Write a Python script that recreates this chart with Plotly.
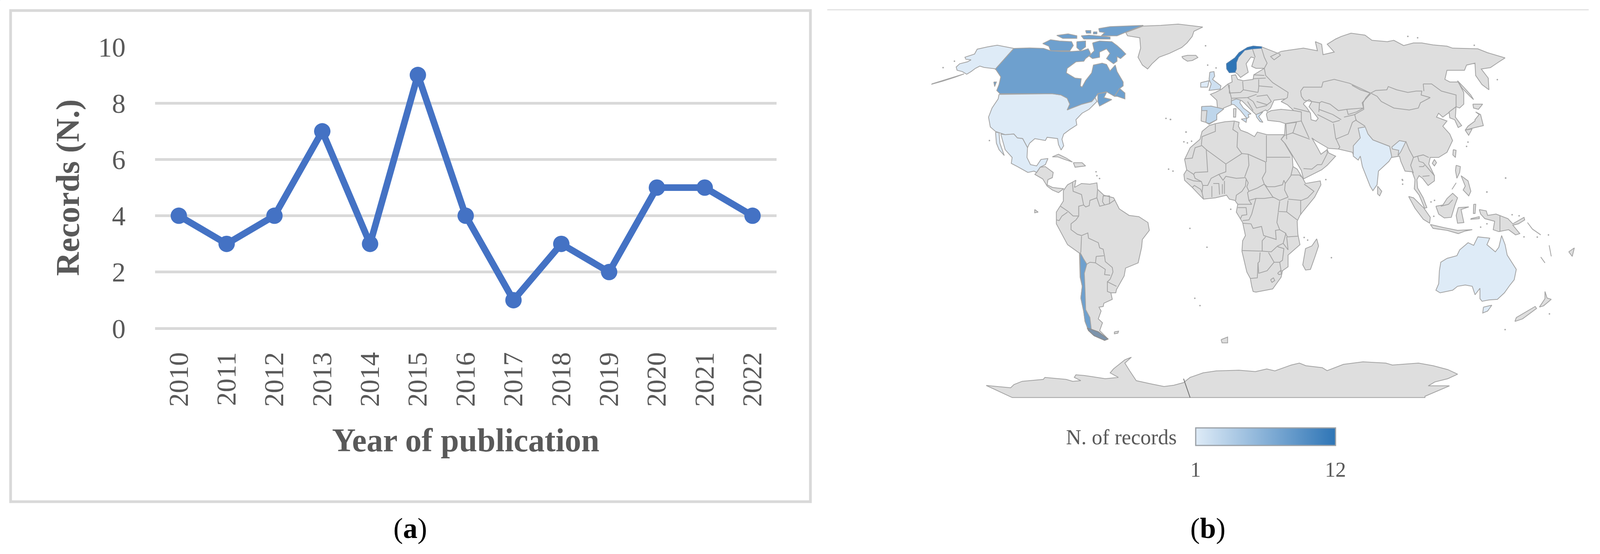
import plotly.graph_objects as go
from plotly.colors import sample_colorscale

W, H = 4379, 1419     # the reference's size: map units and layout fractions are measured in it
PAGE_W = 4096         # the browser window stops at this width, so the figure is fitted to it

# ---------- panel (a) data ----------
YEARS = ["2010","2011","2012","2013","2014","2015","2016","2017","2018","2019","2020","2021","2022"]
RECORDS = [4, 3, 4, 7, 3, 9, 4, 1, 3, 2, 5, 5, 4]

# ---------- panel (b) data: records per country ----------
REC_USA = 1; REC_MEXICO = 1; REC_AUSTRALIA = 1; REC_INDIA = 1; REC_IRELAND = 1
REC_UK = 2; REC_ITALY = 2; REC_GREECE = 2
REC_SPAIN = 3
REC_CANADA = 8; REC_CHILE = 8
REC_NORWAY = 12
SCALE_MIN, SCALE_MAX = 1, 12
COLORSCALE = [[0, "#DEEBF7"], [1, "#2E75B6"]]

# map outlines; each list is read in one of these frames
FRAMES = {"NA": (2550, 50, 2.09, 3), "SA": (2650, 400, 2.613, 3), "EU": (3200, 60, 2.613, 3),
          "AF": (3200, 350, 2.613, 3), "AS": (3700, 60, 2.613, 3), "OC": (3750, 400, 2.613, 3),
          "AN": (2650, 850, 1.12, 3)}

ALASKA = [(470,222),(430,212),(375,197),(320,210),(260,228),(245,265),(190,290),(195,305),(225,310),(205,325),(160,340),(140,365),(145,390),(175,400),(200,420),(225,400),(250,375),(275,358),(300,368),(360,378),(375,395),(395,440),(365,380)]
ALEUTIANS = [(0,495),(60,470),(130,440),(185,418),(130,445),(60,475),(0,497)]
CANADA = [(470,222),(560,218),(640,222),(680,240),(740,245),(800,245),(860,240),(895,225),(905,250),(910,270),(880,300),(870,320),(825,325),(775,375),(770,410),(820,450),(855,455),(850,510),(860,520),(880,470),(915,410),(925,350),(975,335),(1000,345),(1020,395),(1050,350),(1060,400),(1095,480),(1095,510),(1075,530),(1045,590),(1000,555),(950,570),(935,600),(915,630),(860,650),(790,685),(775,695),(790,650),(775,605),(740,580),(690,570),(390,570),(372,545),(385,500),(395,440),(365,380)]
CANADA_MARITIMES = [(950,570),(1000,560),(985,600),(1030,615),(960,665),(950,630)]
CANADA_NEWFOUNDLAND = [(1045,590),(1075,530),(1105,565),(1105,610),(1060,590)]
CANADA_VANCOUVER = [(355,480),(370,480),(360,515)]
CANADA_BAFFIN = [(920,180),(960,165),(1030,170),(1060,200),(1085,230),(1110,265),(1080,300),(1060,285),(1060,320),(1040,340),(1000,300),(1020,260),(1000,225),(960,250),(960,290),(920,300),(900,280),(930,240)]
CANADA_VICTORIA = [(635,185),(680,155),(730,165),(800,170),(810,200),(790,240),(680,240),(670,205)]
CANADA_SOMERSET = [(830,170),(880,165),(880,210),(850,240),(830,215)]
CANADA_MELVILLE = [(715,122),(780,110),(830,125),(830,145),(750,145)]
CANADA_DEVON = [(855,125),(900,120),(1020,135),(1020,150),(870,150)]
CANADA_ISLE_A = [(880,85),(910,85),(910,105),(885,105)]
CANADA_ISLE_B = [(925,95),(945,95),(945,110),(925,110)]
CANADA_ELLESMERE = [(955,70),(1020,55),(1210,45),(1150,75),(1060,125),(970,125),(990,100),(960,95)]
GREENLAND = [(1210,50),(1310,45),(1410,35),(1550,58),(1500,90),(1490,130),(1460,180),(1430,215),(1360,260),(1300,290),(1260,340),(1235,380),(1205,350),(1180,290),(1195,220),(1190,140),(1120,125),(1110,100),(1170,70)]
USA = [(385,575),(690,570),(740,580),(775,605),(790,650),(775,695),(860,650),(915,630),(935,600),(945,630),(900,690),(860,720),(825,770),(830,810),(790,845),(755,880),(745,920),(755,970),(740,1003),(725,960),(720,915),(660,905),(650,930),(590,915),(560,950),(548,985),(520,915),(490,910),(470,880),(420,885),(365,860),(335,825),(325,750),(345,680),(380,610)]
MEXICO = [(395,880),(420,885),(470,880),(490,910),(520,915),(548,985),(545,1060),(565,1115),(600,1125),(625,1075),(665,1068),(650,1115),(620,1135),(600,1175),(585,1165),(550,1175),(490,1130),(455,1105),(460,1060),(420,1000)]
BAJA = [(365,865),(385,870),(390,950),(415,1045),(385,1000),(370,950)]
CENTRAL_AMERICA = [(600,1175),(620,1135),(650,1130),(695,1175),(690,1215),(665,1230),(660,1270),(690,1290),(720,1295),(755,1300),(725,1330),(690,1310),(660,1280),(635,1225),(590,1190)]
CUBA = [(690,1055),(725,1035),(770,1065),(805,1095),(760,1075),(720,1055)]
HISPANIOLA = [(810,1100),(860,1100),(880,1125),(820,1135)]
ICELAND = [(90,255),(130,245),(190,245),(205,262),(165,285),(130,290),(100,270)]

SOUTH_AMERICA = [(680,265),(710,220),(745,200),(770,185),(760,240),(810,210),(870,215),(920,205),(925,255),(970,300),(1040,320),(1060,365),(1080,405),(1150,455),(1220,465),(1285,510),(1295,570),(1245,640),(1240,700),(1215,820),(1125,860),(1115,920),(1060,1025),(1055,1050),(1020,1050),(1030,1100),(970,1130),(965,1155),(935,1160),(950,1190),(930,1250),(960,1280),(940,1340),(1000,1405),(975,1415),(900,1380),(860,1340),(835,1270),(825,1190),(805,1090),(815,1000),(800,930),(795,745),(710,680),(630,520),(630,430),(660,380),(680,345)]
CHILE = [(800,740),(825,790),(848,830),(830,900),(835,1020),(840,1180),(870,1240),(880,1330),(930,1350),(1000,1405),(975,1415),(900,1380),(860,1340),(835,1270),(825,1190),(805,1090),(815,1000),(803,930),(800,830)]
CHILE_TIP = [(850,1320),(880,1330),(930,1350),(1000,1405),(975,1415),(900,1380),(860,1340)]
SA_BORDERS = [
 [(745,200),(750,270),(810,295),(825,375),(790,385),(790,460)],
 [(660,385),(715,425),(750,460),(790,460),(770,490),(735,520),(735,565),(780,600),(810,610),(855,590),(860,630),(930,665),(940,705),(965,715),(975,770),(980,810),(1030,855),(1035,890),(1015,945),(995,965),(1060,1000)],
 [(630,490),(650,495),(670,460),(710,430)],
 [(810,615),(805,740)],
 [(915,770),(970,765)], [(915,770),(910,820),(980,870),(975,910),(1015,915)],
 [(848,830),(870,815),(910,820)],
 [(995,965),(995,1040),(1020,1050)],
 [(825,375),(840,390),(865,380),(870,340),(920,320),(925,255)],
 [(920,320),(940,385),(975,375),(960,350),(965,305),(1010,305),(1010,365),(975,375)],
 [(1010,365),(1050,335)],
]
FALKLAND = [(1045,1350),(1075,1345),(1070,1360),(1045,1365)]
GALAPAGOS = [(475,410),(500,430),(475,435)]

AFRICA = [(285,-85),(330,-100),(400,-115),(465,-120),(500,-110),(495,-80),(510,-50),(560,-30),(610,0),(630,-35),(700,-15),(770,-15),(825,-15),(800,20),(825,50),(880,150),(885,230),(915,250),(955,320),(975,360),(1080,340),(1085,370),(1040,465),(960,570),(935,605),(915,650),(920,750),(935,830),(850,910),(850,1000),(810,1030),(800,1080),(740,1170),(620,1195),(600,1190),(590,1150),(580,1090),(555,1040),(520,880),(525,800),(545,760),(525,660),(480,580),(490,520),(470,490),(430,480),(410,450),(330,470),(245,480),(200,430),(165,390),(110,335),(105,290),(125,255),(110,175),(150,85),(220,20),(235,-40)]
AF_BORDERS = [
 [(330,-95),(330,-40),(235,0),(230,65)],
 [(110,170),(165,165),(185,85),(230,70)],
 [(230,65),(265,100),(405,210)],
 [(265,100),(275,270),(185,275),(175,290),(125,255)],
 [(465,-115),(455,-55),(490,-30),(485,80),(520,130)],
 [(405,210),(520,130),(565,135),(690,195)],
 [(695,-10),(695,195)],
 [(695,158),(865,158)],
 [(565,135),(570,220),(540,310)],
 [(405,210),(405,270),(355,290),(385,335),(405,305),(480,320),(545,315)],
 [(690,195),(690,270),(665,320),(680,365),(630,395),(570,420),(555,385),(565,355),(545,315)],
 [(550,330),(545,380),(520,420),(480,450),(475,490)],
 [(490,520),(590,520),(570,490),(560,430),(570,420)],
 [(570,490),(620,475),(680,475),(745,465),(790,490)],
 [(680,365),(720,430),(745,470)],
 [(680,365),(700,385),(755,385),(810,370),(820,335),(830,360),(870,300),(885,230)],
 [(830,360),(825,410),(850,465),(790,490)],
 [(870,295),(930,295),(965,325)],
 [(965,365),(1035,420),(990,470),(945,490),(850,480)],
 [(940,490),(940,600)],
 [(790,495),(780,575),(840,578),(850,490)],
 [(840,578),(915,640)],
 [(780,580),(770,660),(790,715),(830,740),(845,770),(920,765)],
 [(620,475),(590,595),(570,640),(525,645)],
 [(525,665),(585,670),(600,705),(660,690),(675,760),(765,790),(760,720),(790,715)],
 [(490,545),(550,545),(555,600),(520,605),(510,630)],
 [(690,770),(665,800),(665,880),(520,875)],
 [(665,880),(730,885),(775,840),(815,820),(835,740)],
 [(650,890),(645,960),(635,970),(630,1085),(580,1090)],
 [(710,890),(750,965),(700,1030),(640,1050),(635,970)],
 [(775,845),(820,860),(810,950),(790,965),(750,965)],
 [(790,965),(800,1030),(810,1035)],
 [(815,820),(850,870),(840,770)],
 [(725,1100),(745,1085),(755,1105),(735,1120),(725,1100)],
 [(775,1050),(795,1030),(805,1055),(785,1060),(775,1050)],
 [(175,290),(185,320),(230,345),(240,375),(275,375),(300,320),(355,290)],
 [(240,375),(235,430),(245,480)],
 [(305,380),(305,465)], [(315,360),(355,360),(360,445)], [(380,365),(380,440)], [(395,340),(395,440)],
 [(125,320),(175,340),(230,345)],
 [(165,390),(180,375),(225,405),(235,430)],
]
MADAGASCAR = [(1055,785),(1068,840),(1040,930),(1010,1020),(975,1025),(955,985),(975,860),(1020,840)]
SRI_LANKA = [(1490,380),(1520,420),(1505,455),(1490,440)]

EURASIA_WEST = [(228,750),(230,700),(232,640),(300,635),(345,650),(340,590),(295,545),(330,530),(375,505),(420,465),(450,450),(445,400),(475,395),(490,430),(530,440),(600,430),(605,395),(680,345),(620,345),(590,330),(610,265),(585,258),(550,310),(565,375),(510,415),(490,390),(470,375),(430,378),(412,350),(410,310),(470,265),(500,225),(560,185),(600,175),(660,180),(720,205),(790,235),(795,245),(750,280),(725,255),(800,215),(860,205),(960,190),(1060,210),(1045,140),(1090,160),(1100,240),(1180,220),(1130,160),(1190,120),(1230,100),(1300,75),(1400,90),(1450,130),(1560,140)]
EURASIA_EAST = [(300,130),(370,170),(440,150),(500,150),(580,165),(680,175),(720,190),(900,195),(970,225),(1095,265),(1045,300),(990,340),(925,350),(975,420),(980,510),(930,470),(885,400),(880,305),(820,320),(805,360),(680,360),(665,430),(700,450),(760,450),(800,530),(800,620),(770,650),(745,640),(700,680),(650,720),(620,690),(605,720),(680,750),(650,790),(700,850),(720,900),(680,990),(620,1030),(560,1030),(550,1080),(590,1170),(590,1210),(545,1245),(505,1190),(480,1170),(465,1200),(470,1265),(510,1340),(536,1415),(520,1420),(481,1320),(446,1270),(451,1200),(431,1140),(380,1135),(350,1060),(340,1020),(285,1030),(10,1010)]
EURASIA_SOUTH = [(1310,990),(1210,965),(1140,960),(1045,900),(1020,880),(1060,955),(1085,1005),(1130,970),(1140,995),(1190,1020),(1130,1090),(1090,1125),(960,1195),(945,1130),(885,1020),(830,925),(800,890),(825,860),(830,770),(790,755),(705,745),(695,700),(700,685),(730,670),(800,660),(890,670),(845,625),(800,600),(830,580),(750,590),(725,650),(700,675),(690,665),(625,700),(650,755),(620,700),(600,680),(540,615),(520,595),(510,590),(445,595),(445,625),(390,650),(340,700),(340,740),(285,775),(262,760)]
CASPIAN = [(965,610),(1000,585),(1020,600),(1000,640),(1030,680),(1065,730),(1050,750),(1015,740),(1010,690),(985,650),(960,620)]
EU_BORDERS = [
 [(595,195),(615,260)],
 [(660,190),(680,260),(700,305),(680,345)],
 [(680,345),(690,400),(740,455),(850,530),(845,570),(830,580)],
 [(605,395),(680,400)], [(600,425),(690,420)],
 [(640,430),(640,490),(635,530)], [(640,480),(740,490)],
 [(525,445),(530,510),(635,530)],
 [(430,470),(430,535),(510,530),(530,510)],
 [(420,465),(445,575),(445,620)],
 [(445,575),(560,570),(625,545)],
 [(625,560),(700,550),(730,600),(700,625),(625,600)],
 [(600,600),(625,650),(700,630)],
 [(560,600),(600,670)], [(560,570),(600,600)],
 [(890,670),(945,680),(945,750),(830,770)],
 [(890,650),(1000,680)],
 [(840,770),(910,760),(885,840),(830,860)],
 [(880,840),(1005,890)],
 [(945,750),(1000,880)],
 [(835,770),(840,890)],
 [(960,1115),(1020,1120),(1060,1085),(1090,1085)],
 [(1090,1085),(1130,1000),(1130,960)],
 [(1175,770),(1190,880),(1220,950),(1210,965)],
 [(1060,700),(1170,760),(1220,745)],
 [(1190,890),(1280,850),(1310,760),(1340,740)],
 [(940,520),(960,490),(1090,490),(1100,450),(1180,430),(1290,460),(1440,535)],
 [(965,590),(1075,610),(1090,600),(1150,620),(1210,670),(1270,660),(1390,650),(1380,610),(1440,540)],
 [(940,520),(945,560),(965,590)],
 [(1075,610),(1070,680)],
 [(1070,660),(1170,700),(1230,740)],
 [(1270,660),(1280,700),(1340,680),(1390,650)],
 [(1250,720),(1330,700)],
]
AS_BORDERS = [
 [(130,535),(100,570),(80,610),(85,660),(20,700),(30,745),(95,790)],
 [(135,535),(170,515),(250,510),(260,485),(320,510),(400,530),(460,520),(500,520),(495,550),(560,570),(490,610),(475,650),(410,665),(300,650),(210,600),(180,560),(135,535)],
 [(510,465),(570,465),(640,520),(745,550),(745,610),(745,640)],
 [(510,465),(515,520)],
 [(0,475),(60,510),(130,535)],
 [(385,905),(410,970),(440,1030),(470,1020),(510,1010),(550,1030)],
 [(440,1030),(420,1090),(440,1150)],
 [(470,1020),(480,1060),(510,1070),(590,1170)],
 [(505,1175),(555,1170)],
 [(480,1100),(510,1100),(520,1090)],
 [(115,850),(150,895),(270,945)],
]
KOREA = [(745,640),(740,720),(785,785),(760,800),(735,740),(700,725),(695,680)]
SAKHALIN = [(755,440),(800,490),(850,550),(870,585),(845,560),(790,500)]
HOKKAIDO = [(865,620),(935,620),(905,660),(870,650)]
HONSHU = [(885,680),(920,700),(940,785),(880,800),(810,820),(830,790),(880,750),(880,740),(910,700)]
KYUSHU = [(810,820),(860,810),(835,860)]
TAIWAN = [(725,970),(745,975),(740,1030),(722,1010)]
HAINAN = [(590,1045),(605,1070),(590,1095),(575,1075)]
INDIA = [(95,795),(115,850),(150,895),(270,945),(285,1025),(265,1060),(190,1135),(180,1240),(150,1285),(130,1250),(75,1100),(60,1020),(45,1050),(10,1020),(10,990),(10,940),(60,880),(45,805)]
INDIA_ASSAM = [(285,950),(340,900),(385,910),(350,985),(330,1015),(335,975),(290,965)]

UK = [(290,375),(320,370),(325,405),(310,430),(370,480),(365,505),(285,515),(300,465),(285,430)]
IRELAND = [(225,455),(285,440),(275,490),(225,490)]
SPAIN = [(232,638),(300,635),(390,658),(340,700),(340,740),(285,770),(262,760),(270,670),(232,670)]
ITALY = [(445,595),(480,580),(510,590),(505,610),(530,650),(585,695),(565,700),(570,720),(555,730),(510,670),(465,625),(445,620)]
SICILY = [(515,735),(555,730),(550,760)]
GREECE = [(620,700),(670,680),(640,715),(670,760),(650,755),(625,720)]
NORWAY = [(410,310),(470,265),(500,225),(560,185),(600,175),(660,180),(660,190),(595,195),(540,205),(495,260),(480,300),(480,350),(470,375),(430,378),(412,350)]
SARDINIA = [(460,655),(478,655),(475,720),(460,720)]

LUZON = [(615,70),(645,80),(640,125),(620,170),(610,110)]
MINDANAO = [(650,150),(700,190),(720,270),(705,305),(665,260),(680,230)]
BORNEO = [(470,385),(520,375),(550,325),(590,285),(625,320),(605,380),(580,470),(530,475),(490,445)]
SUMATRA = [(275,310),(310,320),(385,400),(430,470),(425,515),(380,485),(320,400)]
JAVA = [(430,525),(530,550),(625,570),(730,565),(680,575),(630,595),(550,570),(450,555)]
SULAWESI = [(630,395),(705,390),(650,410),(670,510),(625,515),(615,455)]
NEW_GUINEA = [(780,410),(830,420),(840,455),(900,445),(985,480),(1020,520),(1100,470),(1105,490),(1060,520),(1020,530),(1070,595),(1040,605),(990,565),(920,580),(880,565),(890,500),(820,480),(790,445)]
MOLUCCAS = [(740,370),(755,370),(750,440),(738,440)]
TIMOR = [(720,480),(780,465),(780,480),(720,485)]
AUSTRALIA = [(940,610),(965,680),(980,760),(1010,810),(1045,870),(1030,950),(1000,990),(960,1050),(910,1100),(850,1105),(800,1115),(785,1095),(785,1015),(750,1065),(730,1000),(680,990),(625,1000),(590,1030),(500,1050),(470,1030),(490,980),(495,880),(505,815),(550,785),(620,765),(640,720),(700,665),(740,685),(770,620),(855,630),(835,680),(895,735),(920,700)]
TASMANIA = [(810,1160),(870,1145),(840,1190),(805,1205)]
NZ_SOUTH = [(1035,1270),(1045,1240),(1180,1155),(1190,1170),(1090,1250)]
NZ_NORTH = [(1210,1160),(1250,1095),(1250,1040),(1265,1090),(1295,1100),(1240,1150)]
FIJI = [(1420,735),(1460,705),(1445,770)]
OC_BORDERS = [[(928,455),(928,580)], [(505,385),(560,370),(590,335)], [(585,255),(615,205)],
              [(1125,510),(1160,560),(1220,605)], [(1220,775),(1250,820)], [(1280,685),(1295,770)]]

ANTARCTICA = [(55,412),(130,430),(140,405),(165,380),(230,365),(235,350),(300,365),(320,380),(345,375),(325,350),(330,330),(355,335),(420,360),(460,350),(435,315),(445,285),(460,255),(480,215),(500,195),(480,240),(495,300),(515,375),(560,400),(600,420),(630,410),(660,390),(680,350),(720,315),(760,300),(830,295),(880,305),(915,285),(940,300),(990,255),(1015,240),(1035,260),(1085,275),(1100,298),(1150,250),(1210,230),(1280,240),(1300,255),(1380,240),(1425,260),(1470,290),(1500,325),(1470,360),(1430,385),(1410,415),(1475,415),(1400,495),(1400,505),(135,505)]
ANTARCTICA_MERIDIAN = [(660,360),(680,505)]
SOUTH_GEORGIA = [(775,60),(795,40),(795,85),(778,85)]

DOTS_EU = [(260,172),(275,320),(335,342),(10,738),(120,835),(105,910),(130,918),(160,905)]
DOTS_NA = [(65,370),(130,320),(330,930),(1340,760),(1365,768),(1455,865),(1355,1150),(1380,1165),(940,1170),(945,1200),(960,1222)]
DOTS_AF = [(148,705),(270,850),(1120,330),(1160,930),(183,1242),(220,1298),(440,558),(965,775),(990,795)]
DOTS_OC = [(232,185),(232,215),(435,352),(460,340),(455,462),(790,545),(835,520),(1015,450),(1065,458),(1100,620),(1195,622),(1275,605),(968,168),(835,275),(1282,1212),(965,1333)]
DOTS_AS = [(875,168),(1040,432),(820,945),(830,912),(1100,1188),(965,1295),(360,1200),(400,100),(470,110)]

# ---------- helpers ----------
def frame(name, pts):
    ox, oy, sx, sy = FRAMES[name]
    return [(ox + x / sx, oy + y / sy) for x, y in pts]

def join(parts, close):
    xs, ys = [], []
    for p in parts:
        pts = p + p[:1] if close else p
        xs += [a for a, _ in pts] + [None]
        ys += [b for _, b in pts] + [None]
    return xs, ys

def rec_color(v):
    return sample_colorscale(COLORSCALE, (v - SCALE_MIN) / (SCALE_MAX - SCALE_MIN))[0]

LAND = "#DEDEDE"
EDGE = "#A3A3A3"
fig = go.Figure()

# panel (a)
fig.add_trace(go.Scatter(x=YEARS, y=RECORDS, mode="lines+markers", showlegend=False,
                         line=dict(color="#4472C4", width=17),
                         marker=dict(color="#4472C4", size=42), xaxis="x", yaxis="y"))

def poly(parts, fill, edge=EDGE, width=2):
    xs, ys = join(parts, True)
    fig.add_trace(go.Scatter(x=xs, y=ys, mode="lines", fill="toself", fillcolor=fill,
                             line=dict(color=edge, width=width), showlegend=False,
                             hoverinfo="skip", xaxis="x2", yaxis="y2"))

def lines(parts, color=EDGE, width=2):
    xs, ys = join(parts, False)
    fig.add_trace(go.Scatter(x=xs, y=ys, mode="lines", line=dict(color=color, width=width),
                             showlegend=False, hoverinfo="skip", xaxis="x2", yaxis="y2"))

# grey land
eurasia = frame("EU", EURASIA_WEST) + frame("AS", EURASIA_EAST) + frame("EU", EURASIA_SOUTH)
grey = [eurasia,
        frame("NA", GREENLAND), frame("NA", CENTRAL_AMERICA), frame("NA", CUBA), frame("NA", HISPANIOLA),
        frame("EU", ICELAND), frame("EU", SARDINIA),
        frame("SA", SOUTH_AMERICA), frame("SA", FALKLAND), frame("SA", GALAPAGOS),
        frame("AF", AFRICA), frame("AF", MADAGASCAR), frame("AF", SRI_LANKA),
        frame("AS", KOREA), frame("AS", SAKHALIN), frame("AS", HOKKAIDO), frame("AS", HONSHU), frame("AS", KYUSHU),
        frame("AS", TAIWAN), frame("AS", HAINAN),
        frame("OC", LUZON), frame("OC", MINDANAO), frame("OC", BORNEO), frame("OC", SUMATRA), frame("OC", JAVA),
        frame("OC", SULAWESI), frame("OC", NEW_GUINEA), frame("OC", MOLUCCAS), frame("OC", TIMOR),
        frame("OC", NZ_SOUTH), frame("OC", NZ_NORTH), frame("OC", FIJI),
        frame("AN", SOUTH_GEORGIA)]
for part in grey:
    poly([part], LAND)
poly([frame("AN", ANTARCTICA)], LAND)
poly([frame("EU", CASPIAN)], "#FFFFFF")

lines([frame("SA", b) for b in SA_BORDERS] + [frame("AF", b) for b in AF_BORDERS]
      + [frame("EU", b) for b in EU_BORDERS] + [frame("AS", b) for b in AS_BORDERS]
      + [frame("OC", b) for b in OC_BORDERS])
lines([frame("AN", ANTARCTICA_MERIDIAN)], color="#6E6E6E", width=2)

# coloured countries
poly([frame("NA", ALASKA), frame("NA", USA)], rec_color(REC_USA))
poly([frame("NA", ALEUTIANS)], rec_color(REC_USA))
poly([frame("NA", MEXICO), frame("NA", BAJA)], rec_color(REC_MEXICO))
poly([frame("OC", AUSTRALIA), frame("OC", TASMANIA)], rec_color(REC_AUSTRALIA))
poly([frame("AS", INDIA), frame("AS", INDIA_ASSAM)], rec_color(REC_INDIA))
poly([frame("EU", IRELAND)], rec_color(REC_IRELAND))
poly([frame("EU", UK)], rec_color(REC_UK))
poly([frame("EU", ITALY), frame("EU", SICILY)], rec_color(REC_ITALY))
poly([frame("EU", GREECE)], rec_color(REC_GREECE))
poly([frame("EU", SPAIN)], rec_color(REC_SPAIN))
poly([frame("NA", p) for p in (CANADA, CANADA_MARITIMES, CANADA_NEWFOUNDLAND, CANADA_VANCOUVER, CANADA_BAFFIN,
                               CANADA_VICTORIA, CANADA_SOMERSET, CANADA_MELVILLE, CANADA_DEVON, CANADA_ISLE_A,
                               CANADA_ISLE_B, CANADA_ELLESMERE)], rec_color(REC_CANADA))
poly([frame("SA", CHILE)], rec_color(REC_CHILE))
poly([frame("SA", CHILE_TIP)], "#7C93AB", edge="#8C8C8C")
poly([frame("EU", NORWAY)], rec_color(REC_NORWAY), edge="#4F7FB0")

# small islands
dots = frame("EU", DOTS_EU) + frame("NA", DOTS_NA) + frame("AF", DOTS_AF) + frame("OC", DOTS_OC) + frame("AS", DOTS_AS)
fig.add_trace(go.Scatter(x=[a for a, _ in dots], y=[b for _, b in dots], mode="markers",
                         marker=dict(color="#A8A8A8", size=4), showlegend=False, hoverinfo="skip",
                         xaxis="x2", yaxis="y2"))

# colour legend
fig.add_trace(go.Scatter(x=[0, 0], y=[0, 0], mode="markers", showlegend=False, hoverinfo="skip",
    marker=dict(size=1, color=[SCALE_MIN, SCALE_MAX], cmin=SCALE_MIN, cmax=SCALE_MAX,
                colorscale=COLORSCALE, showscale=True,
                colorbar=dict(orientation="h", x=3463.5 / W, xanchor="center", y=1 - 1096 / H, yanchor="top",
                              lenmode="fraction", len=383 / W, thicknessmode="pixels", thickness=45, xpad=0, ypad=0,
                              outlinecolor="#9AA0A6", outlinewidth=3, tickvals=[SCALE_MIN, SCALE_MAX],
                              ticks="outside", ticklen=14, tickcolor="rgba(0,0,0,0)",
                              tickfont=dict(family="Liberation Serif", size=54, color="#595959"))),
    xaxis="x2", yaxis="y2"))

GREY_TXT = "#595959"
SERIF = "Liberation Serif"
fig.update_layout(
    width=PAGE_W, height=H, margin=dict(l=0, r=0, t=0, b=0, autoexpand=False), paper_bgcolor="white", plot_bgcolor="rgba(0,0,0,0)",
    xaxis=dict(domain=[424 / W, 2125 / W], type="category", range=[-0.5, 12.5], anchor="y",
               showgrid=False, showline=False, zeroline=False, tickangle=-90,
               ticks="outside", ticklen=32, tickcolor="rgba(0,0,0,0)",
               tickfont=dict(family=SERIF, size=70, color=GREY_TXT),
               title=dict(text="<b>Year of publication</b>", standoff=56,
                          font=dict(family=SERIF, size=84, color=GREY_TXT))),
    yaxis=dict(domain=[1 - 841 / H, 1 - 120 / H], range=[0, 10], dtick=2, anchor="x",
               showgrid=True, gridcolor="#D9D9D9", gridwidth=7, zeroline=True, zerolinecolor="#D9D9D9",
               zerolinewidth=7, showline=False,
               ticks="outside", ticklen=60, tickcolor="rgba(0,0,0,0)",
               tickfont=dict(family=SERIF, size=70, color=GREY_TXT),
               title=dict(text="<b>Records (N.)</b>", standoff=21,
                          font=dict(family=SERIF, size=84, color=GREY_TXT))),
    xaxis2=dict(domain=[0, 1], range=[0, W], visible=False, anchor="y2"),
    yaxis2=dict(domain=[0, 1], range=[H, 0], visible=False, anchor="x2"),
    shapes=[
        dict(type="rect", xref="paper", yref="paper", x0=29 / W, x1=2218 / W, y0=1 - 1285 / H, y1=1 - 27 / H,
             line=dict(color="#D9D9D9", width=7), layer="below"),
        dict(type="line", xref="paper", yref="paper", x0=2264 / W, x1=4348 / W, y0=1 - 25 / H, y1=1 - 25 / H,
             line=dict(color="#E2E2E2", width=3), layer="below"),
    ],
    annotations=[
        dict(text="N. of records", xref="paper", yref="paper", x=3222 / W, y=1 - 1120 / H, xanchor="right",
             yanchor="middle", showarrow=False, font=dict(family=SERIF, size=54, color=GREY_TXT)),
        dict(text="(<b>a</b>)", xref="paper", yref="paper", x=1123 / W, y=1 - 1353 / H, xanchor="center",
             yanchor="middle", showarrow=False, font=dict(family=SERIF, size=74, color="black")),
        dict(text="(<b>b</b>)", xref="paper", yref="paper", x=3306 / W, y=1 - 1353 / H, xanchor="center",
             yanchor="middle", showarrow=False, font=dict(family=SERIF, size=74, color="black")),
    ],
)

fig.write_html("out.html", config={"displayModeBar": False},
               post_script="document.body.style.margin='0';document.body.style.overflow='hidden';")
